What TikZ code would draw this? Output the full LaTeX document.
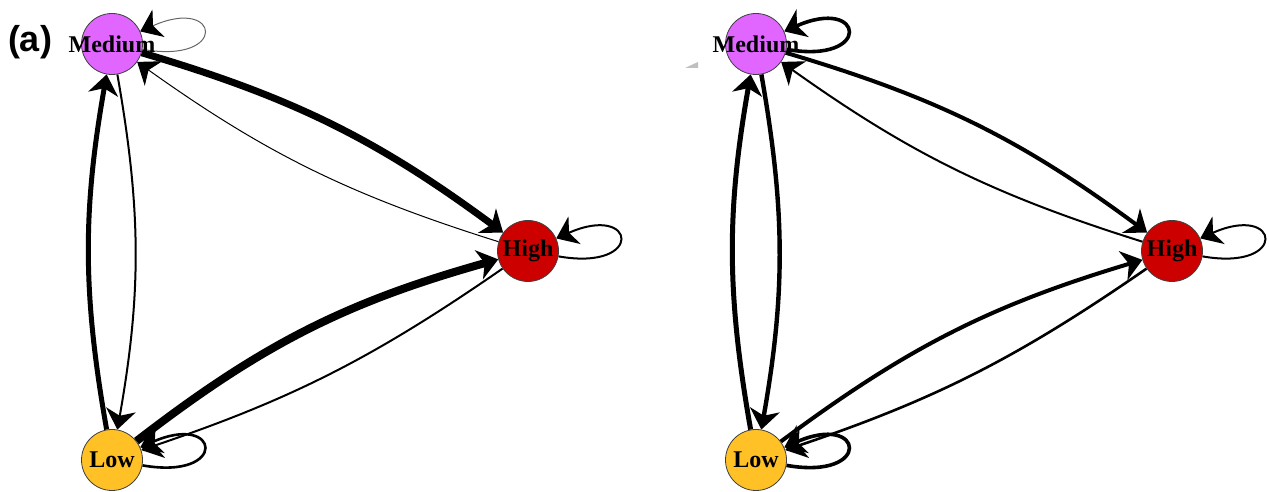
\documentclass[tikz,border=0pt]{standalone}
\usepackage{fontspec}
\setmainfont{Liberation Serif}
\newfontfamily\tagfont{Liberation Sans}
\usetikzlibrary{arrows.meta,positioning,backgrounds}
\definecolor{medcol}{RGB}{224,102,255}
\definecolor{lowcol}{RGB}{255,193,37}
\definecolor{highcol}{RGB}{205,0,0}

\begin{document}
\begin{tikzpicture}[x=0.5pt,y=0.5pt,node distance=208pt,on grid,
  >={Stealth[length=10pt,width=15pt,inset=3pt]},
  vertex/.style={circle,draw=black!75,line width=0.4pt,minimum size=30.5pt,inner sep=0pt,
    label={[font=\fontsize{12}{14}\selectfont\bfseries]center:#1}},
  selfloop/.style={out=-10,in=24,min distance=44pt}]
  \useasboundingbox (0,0) rectangle (1269,492);
  \node[font=\tagfont\bfseries\fontsize{18}{20}\selectfont] (tag) at (30,450) {(a)};
  \path
  node[vertex=Medium,fill=medcol] (med_a) at (112,448) {}
  node[vertex=Low,fill=lowcol,below=of med_a] (low_a) {}
  node[vertex=High,fill=highcol,below right=103.5pt and 208pt of med_a] (high_a) {}

  node[vertex=Medium,fill=medcol,right=322pt of med_a] (med_b) {}
  node[vertex=Low,fill=lowcol,below=of med_b] (low_b) {}
  node[vertex=High,fill=highcol,below right=103.5pt and 208pt of med_b] (high_b) {}
  ;
  \fill[black!25] (685,424) -- (698,430) -- (698,424) -- cycle;
  \begin{scope}[on background layer]
  \path[->]
  (low_a) edge[bend left=10, line width=2.5pt] (med_a)
  (med_a) edge[bend left=10, line width=1pt] (low_a)
  (med_a) edge[bend left=10, line width=3.5pt] (high_a)
  (high_a) edge[bend left=9, line width=0.5pt] (med_a)
  (low_a) edge[bend left=11, line width=4pt] (high_a)
  (high_a) edge[bend left=8, line width=1pt] (low_a)
  (med_a) edge[selfloop, line width=0.5pt, draw=black!60,
    -{Stealth[length=10pt,width=15pt,inset=3pt,color=black]}] (med_a)
  (high_a) edge[selfloop, line width=1pt] (high_a)
  (low_a) edge[selfloop, line width=1.3pt] (low_a)

  (low_b) edge[bend left=10, line width=2.5pt] (med_b)
  (med_b) edge[bend left=10, line width=2.2pt] (low_b)
  (med_b) edge[bend left=10, line width=2pt] (high_b)
  (high_b) edge[bend left=9, line width=1pt] (med_b)
  (low_b) edge[bend left=10, line width=2pt] (high_b)
  (high_b) edge[bend left=8, line width=1.3pt] (low_b)
  (med_b) edge[selfloop, line width=1.8pt] (med_b)
  (high_b) edge[selfloop, line width=1pt] (high_b)
  (low_b) edge[selfloop, line width=1.8pt] (low_b)
  ;
  \end{scope}
\end{tikzpicture}
\end{document}
